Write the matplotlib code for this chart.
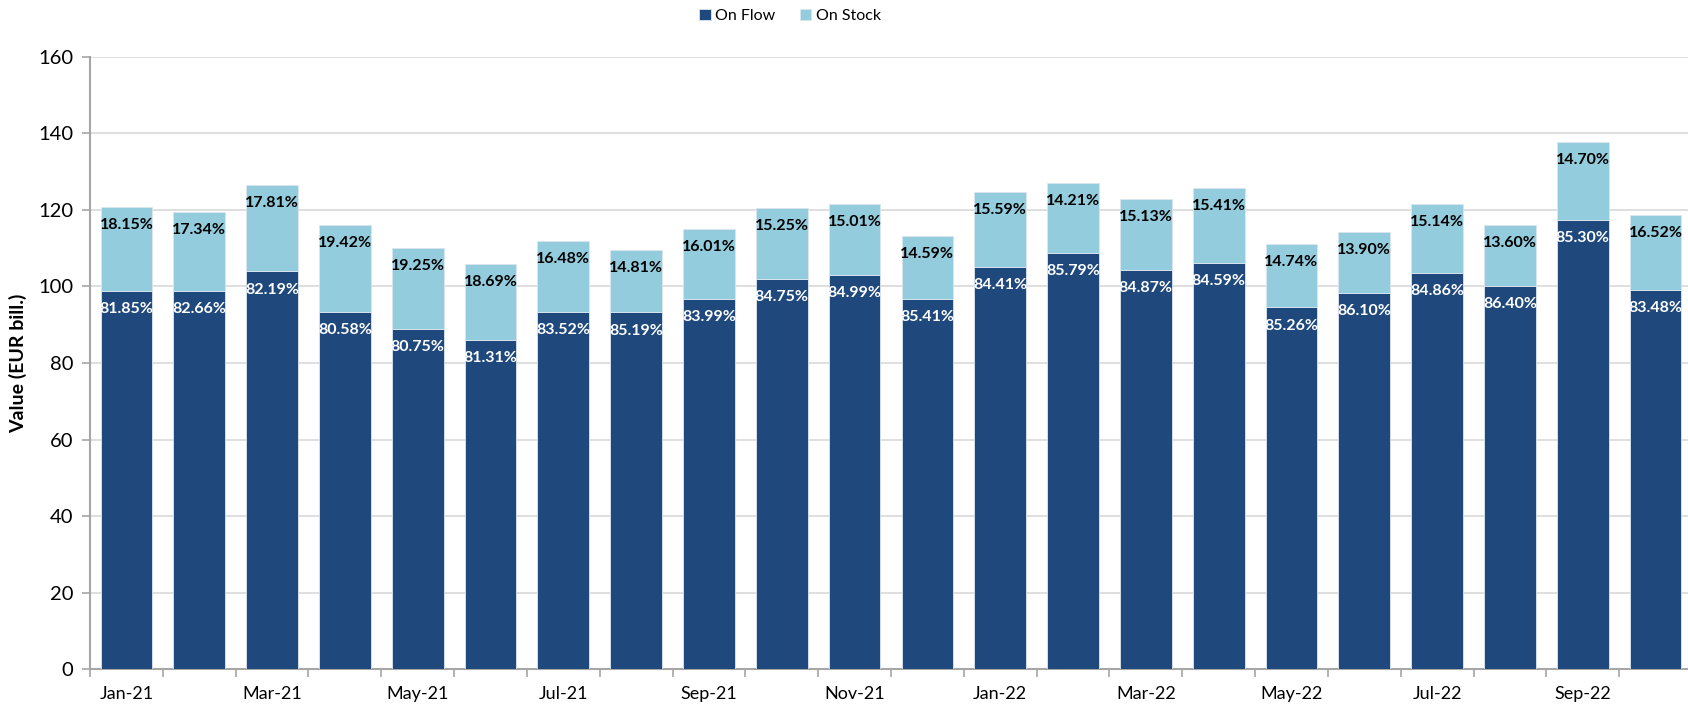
import matplotlib
matplotlib.use("Agg")
import numpy as np
from matplotlib import pyplot as plt

plt.rcParams['font.family'] = ['Lato', 'DejaVu Sans']

months = ["Jan-21", "Feb-21", "Mar-21", "Apr-21", "May-21", "Jun-21", "Jul-21", "Aug-21",
          "Sep-21", "Oct-21", "Nov-21", "Dec-21", "Jan-22", "Feb-22", "Mar-22", "Apr-22",
          "May-22", "Jun-22", "Jul-22", "Aug-22", "Sep-22", "Oct-22"]

# EUR bill.
on_flow = [98.8, 98.8, 103.9, 93.4, 88.8, 86.1, 93.4, 93.2, 96.6, 102.0, 103.0,
           96.6, 105.2, 108.8, 104.3, 106.2, 94.5, 98.3, 103.4, 100.2, 117.3, 99.1]
on_stock = [22.0, 20.7, 22.6, 22.6, 21.3, 19.8, 18.5, 16.2, 18.5, 18.5, 18.5,
            16.6, 19.5, 18.1, 18.5, 19.4, 16.5, 15.9, 18.1, 15.8, 20.4, 19.5]

flow_share = ["81.85%", "82.66%", "82.19%", "80.58%", "80.75%", "81.31%", "83.52%", "85.19%",
              "83.99%", "84.75%", "84.99%", "85.41%", "84.41%", "85.79%", "84.87%", "84.59%",
              "85.26%", "86.10%", "84.86%", "86.40%", "85.30%", "83.48%"]
stock_share = ["18.15%", "17.34%", "17.81%", "19.42%", "19.25%", "18.69%", "16.48%", "14.81%",
               "16.01%", "15.25%", "15.01%", "14.59%", "15.59%", "14.21%", "15.13%", "15.41%",
               "14.74%", "13.90%", "15.14%", "13.60%", "14.70%", "16.52%"]

flow_col = "#1F497D"
stock_col = "#93CDDD"

fig = plt.figure(figsize=(16.88, 7.06), dpi=100)
ax = fig.add_axes([90 / 1688, 36.7 / 706, 1602 / 1688, 612.6 / 706])

x = np.arange(len(months))
top = np.array(on_flow) + np.array(on_stock)

b1 = ax.bar(x, on_flow, 0.71, color=flow_col, edgecolor="#dce6f0", linewidth=0.6,
            label="On Flow", zorder=3)
b2 = ax.bar(x, on_stock, 0.71, bottom=on_flow, color=stock_col, edgecolor="#dce6f0",
            linewidth=0.6, label="On Stock", zorder=3)

for i in range(len(months)):
    ax.annotate(flow_share[i], (x[i], on_flow[i]), xytext=(0, -13), textcoords="offset points",
                ha="center", va="center", color="white", fontsize=11.5, fontweight="bold", zorder=4)
    ax.annotate(stock_share[i], (x[i], top[i]), xytext=(0, -13), textcoords="offset points",
                ha="center", va="center", color="black", fontsize=11.5, fontweight="bold", zorder=4)

ax.set_xlim(-0.5, len(months) - 0.5)
ax.set_ylim(0, 160)
ax.set_yticks(np.arange(0, 161, 20))
ax.yaxis.grid(True, color="#d9d9d9", linewidth=1.2, zorder=0)
ax.set_axisbelow(True)

ax.set_xticks(x[::2])
ax.set_xticklabels(months[::2])
ax.set_xticks(np.arange(-0.5, len(months), 1), minor=True)
ax.tick_params(axis="x", which="major", length=0, pad=12, labelsize=13)
ax.tick_params(axis="x", which="minor", length=6, color="#a6a6a6", width=1.2)
ax.tick_params(axis="y", length=6, color="#a6a6a6", width=1.2, labelsize=14.5, pad=6)

for s in ["top", "right"]:
    ax.spines[s].set_visible(False)
for s in ["left", "bottom"]:
    ax.spines[s].set_color("#a6a6a6")
    ax.spines[s].set_linewidth(1.5)

ax.set_ylabel("Value (EUR bill.)", fontsize=14, fontweight="bold", labelpad=8)

fig.legend(handles=[b1, b2], loc="center", bbox_to_anchor=(790 / 1688, 1 - 16 / 706), ncol=2,
           frameon=False, fontsize=11.5, handlelength=0.7, handleheight=0.7,
           handletextpad=0.3, columnspacing=1.5)

fig.savefig("out.png", dpi=100)
